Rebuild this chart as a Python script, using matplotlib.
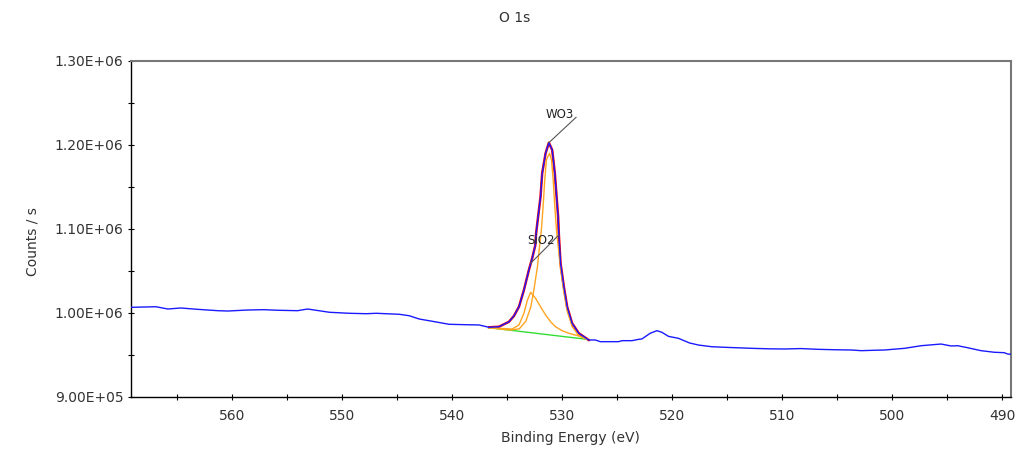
import matplotlib
matplotlib.use("Agg")
import matplotlib.pyplot as plt
from matplotlib.ticker import MultipleLocator, FuncFormatter
import numpy as np

# O 1s spectrum: binding energy (eV) and intensity (counts/s, thousands)
energy = [569.2, 566.93, 565.85, 564.67, 563.13, 561.31, 560.41, 558.59, 557.14,
          555.87, 554.06, 553.15, 551.16, 549.35, 547.80, 546.90, 544.81, 543.91,
          543.0, 541.82, 540.28, 538.74, 537.56, 536.65, 535.75, 534.84, 534.39,
          533.93, 533.48, 533.03, 532.73, 532.45, 532.37, 532.19, 531.97, 531.82,
          531.51, 531.21, 530.91, 530.67, 530.51, 530.37, 530.31, 530.15, 529.85,
          529.55, 529.10, 528.49, 527.59, 526.98, 526.53, 525.77, 524.87, 524.57,
          523.66, 523.05, 522.76, 522.0, 521.39, 520.94, 520.33, 519.43, 518.43,
          517.61, 516.41, 515.2, 512.78, 511.2, 509.78, 508.3, 506.73, 505.2,
          503.72, 502.81, 501.8, 500.69, 498.87, 497.37, 495.56, 494.65, 494.05,
          493.14, 491.93, 490.72, 489.81, 489.5, 489.2]
counts_k = [1006.4, 1007.1, 1004.4, 1005.6, 1004.0, 1002.4, 1002.0, 1003.2, 1003.6,
            1002.9, 1002.4, 1004.4, 1000.5, 999.3, 998.8, 999.3, 998.1, 996.4,
            992.5, 989.8, 986.2, 985.7, 985.4, 982.6, 983.3, 989.2, 996.1,
            1007.1, 1027.0, 1050.8, 1064.8, 1080.0, 1094.5, 1114.3, 1138.1, 1166.0,
            1189.8, 1202.4, 1193.7, 1166.0, 1138.1, 1114.3, 1094.5, 1058.8, 1030.9,
            1007.1, 987.4, 975.5, 967.5, 967.5, 965.5, 965.5, 965.5, 966.7,
            966.7, 968.3, 968.7, 975.5, 978.6, 976.7, 971.8, 969.5, 964.0,
            961.5, 959.5, 958.8, 957.6, 957.0, 956.8, 957.3, 956.4, 955.9,
            955.6, 954.8, 955.2, 955.6, 957.6, 960.7, 962.7, 960.4, 960.7,
            958.3, 954.8, 952.9, 952.4, 950.8, 950.5]

# Linear background under the fitted region
bg_energy = [536.65, 527.74]
bg_counts_k = [982.1, 968.3]

# Fitted components (drawn on top of the background)
wo3_energy = [536.65, 534.75, 533.90, 533.30, 532.85, 532.55, 532.25, 531.88,
              531.73, 531.58, 531.43, 531.15, 530.97, 530.82, 530.67, 530.52,
              530.15, 529.85, 529.55, 529.10, 528.49, 527.74]
wo3_counts_k = [982.1, 979.3, 980.8, 990.0, 1007.0, 1029.0, 1055.0, 1100.5,
                1127.7, 1159.0, 1182.4, 1189.8, 1181.8, 1158.0, 1126.2, 1098.5,
                1052.0, 1025.0, 1002.1, 983.7, 972.6, 968.3]

sio2_energy = [536.65, 534.54, 533.93, 533.48, 533.18, 532.87, 532.42, 531.97,
               531.51, 531.06, 530.61, 530.01, 529.40, 528.49, 527.74]
sio2_counts_k = [982.1, 980.6, 985.4, 999.3, 1014.3, 1024.3, 1017.1, 1007.1,
                 997.3, 989.3, 983.3, 978.6, 975.5, 972.3, 968.3]

# Peak labels: (text, point on curve, end of leader, label centre)
labels = [("WO3", (531.21, 1202.4), (528.74, 1232.6), (530.22, 1236.5)),
          ("SiO2", (532.87, 1058.8), (530.31, 1092.5), (531.94, 1086.5))]

x_ticks = [560, 550, 540, 530, 520, 510, 500, 490]

plt.rcParams['font.family'] = ['DejaVu Sans']

fig = plt.figure(figsize=(10.24, 4.57), dpi=100)
ax = fig.add_axes([131 / 1024, 1 - 396.7 / 457, 880 / 1024, 336 / 457])

E = np.array(energy)
C = np.array(counts_k) * 1e3

# envelope follows the data across the fitted window
fit_mask = (E <= bg_energy[0]) & (E >= 527.59)
ax.plot(E[fit_mask], C[fit_mask], color='#ff0000', lw=1.8, zorder=2)
ax.plot(bg_energy, np.array(bg_counts_k) * 1e3, color='#33dd33', lw=1.0, zorder=2)
ax.plot(wo3_energy, np.array(wo3_counts_k) * 1e3, color='#ffa520', lw=1.0, zorder=2)
ax.plot(sio2_energy, np.array(sio2_counts_k) * 1e3, color='#ffa520', lw=1.0, zorder=2)
ax.plot(E, C, color='#1a1aff', lw=1.0, zorder=3)

for text, pt, end, pos in labels:
    ax.plot([pt[0], end[0]], [pt[1] * 1e3, end[1] * 1e3], color='#555555', lw=0.8, zorder=4)
    ax.text(pos[0], pos[1] * 1e3, text, ha='center', va='center', fontsize=8.5,
            color='#222222', zorder=5)

ax.set_xlim(569.2, 489.2)
ax.set_ylim(9.0e5, 1.3e6)
ax.set_xticks(x_ticks)
ax.xaxis.set_minor_locator(MultipleLocator(5))
ax.yaxis.set_major_locator(MultipleLocator(1e5))
ax.yaxis.set_minor_locator(MultipleLocator(5e4))
ax.yaxis.set_major_formatter(FuncFormatter(lambda v, p: f"{v:.2E}"))
ax.xaxis.set_major_formatter(FuncFormatter(lambda v, p: f"{v:.0f}"))
ax.tick_params(which='both', direction='inout', length=5, width=0.8, color='black',
               labelsize=10, labelcolor='#333333')
ax.tick_params(axis='x', pad=6)
ax.tick_params(axis='y', pad=3)

for s in ('left', 'bottom'):
    ax.spines[s].set_color('black')
    ax.spines[s].set_linewidth(1.0)
for s in ('top', 'right'):
    ax.spines[s].set_color('#777777')
    ax.spines[s].set_linewidth(1.5)

fig.text(515 / 1024, 1 - 18 / 457, "O 1s", ha='center', va='center', fontsize=10, color='#333333')
fig.text(570 / 1024, 1 - 438 / 457, "Binding Energy (eV)", ha='center', va='center',
         fontsize=10, color='#333333')
fig.text(33 / 1024, 1 - 242 / 457, "Counts / s", ha='center', va='center', rotation=90,
         fontsize=10, color='#333333')

fig.savefig("out.png", dpi=100)
